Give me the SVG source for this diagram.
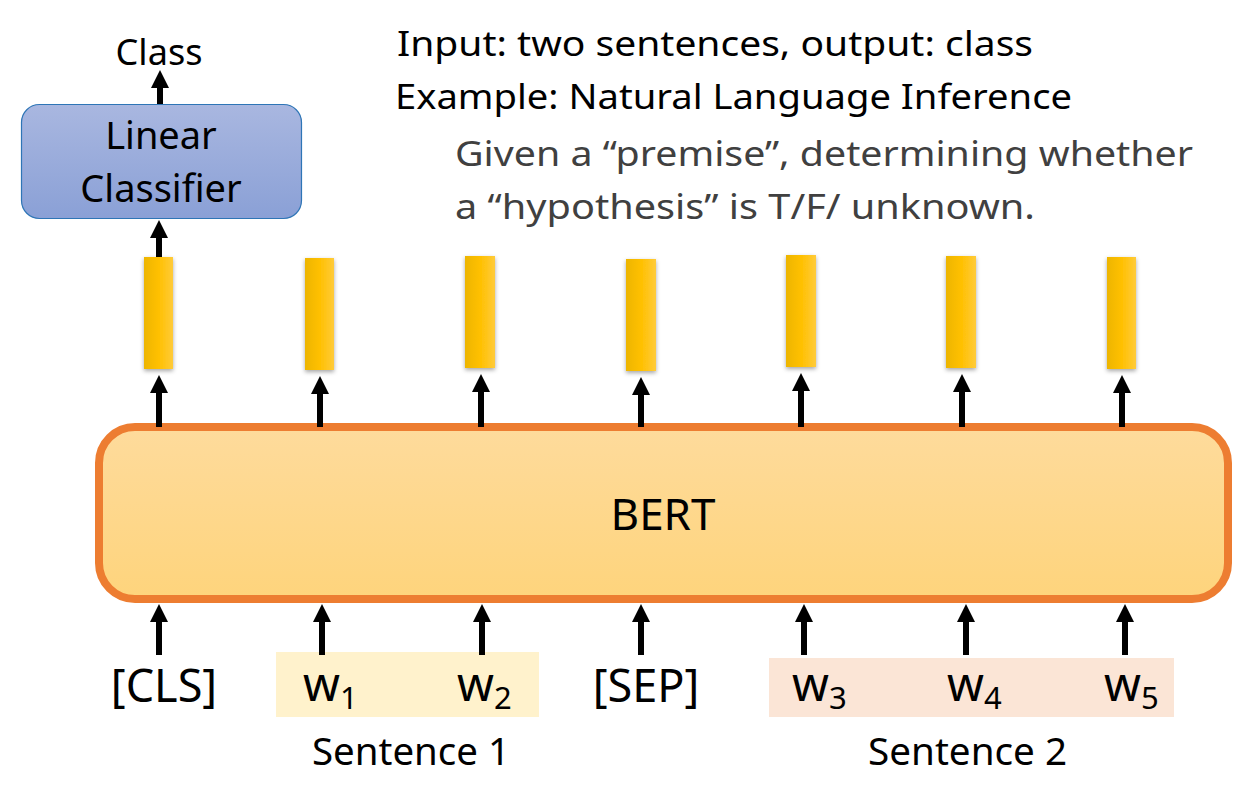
<svg xmlns="http://www.w3.org/2000/svg" width="1257" height="787" viewBox="0 0 1257 787">
<defs>
<linearGradient id="gBert" x1="0" y1="0" x2="0" y2="1"><stop offset="0" stop-color="#FEDB9C"/><stop offset="1" stop-color="#FED47C"/></linearGradient>
<linearGradient id="gLin" x1="0" y1="0" x2="0" y2="1"><stop offset="0" stop-color="#A9B7E0"/><stop offset="1" stop-color="#8AA0D6"/></linearGradient>
<linearGradient id="gBar" x1="0" y1="0" x2="1" y2="0"><stop offset="0" stop-color="#EDB500"/><stop offset="0.5" stop-color="#FFC000"/><stop offset="1" stop-color="#FFCB3A"/></linearGradient>
<filter id="sh" x="-50%" y="-20%" width="200%" height="140%"><feDropShadow dx="0" dy="2" stdDeviation="2" flood-color="#000" flood-opacity="0.35"/></filter>
<marker id="ah" viewBox="0 0 18 18" markerWidth="18" markerHeight="18" refX="1" refY="9" markerUnits="userSpaceOnUse" orient="auto"><path d="M0,0 L18,9 L0,18 Z" fill="#000"/></marker>
</defs>
<style>
text{font-family:"Noto Sans","Open Sans","DejaVu Sans",sans-serif;fill:#000}
.bar{fill:url(#gBar);filter:url(#sh)}
.conn line{stroke:#000;stroke-width:6}
.gray{fill:#404040}
</style>
<rect width="1257" height="787" fill="#fff"/>

<g id="sent1-bg"><rect x="276" y="652" width="263" height="65" fill="#FFF2CC"/></g>
<g id="sent2-bg"><rect x="769" y="658" width="405" height="59" fill="#FBE5D6"/></g>

<g id="bert"><rect x="99" y="427" width="1129" height="172" rx="36" fill="url(#gBert)" stroke="#ED7D31" stroke-width="8"/><text x="663" y="530" font-size="44" text-anchor="middle">BERT</text></g>

<g id="linear"><rect x="21.5" y="104.5" width="280" height="114" rx="18" fill="url(#gLin)" stroke="#2E75B6" stroke-width="1.2"/><text x="161" y="149" font-size="38" text-anchor="middle">Linear</text><text x="161" y="202" font-size="38" text-anchor="middle">Classifier</text></g>

<g id="class-label"><text x="159" y="65" font-size="36" text-anchor="middle" textLength="87" lengthAdjust="spacingAndGlyphs">Class</text></g>

<g id="bars">
<rect class="bar" x="144" y="257" width="29" height="112"/>
<rect class="bar" x="305" y="258" width="29" height="112"/>
<rect class="bar" x="465" y="256" width="30" height="112"/>
<rect class="bar" x="626" y="259" width="30" height="112"/>
<rect class="bar" x="786" y="255" width="30" height="112"/>
<rect class="bar" x="946" y="256" width="30" height="112"/>
<rect class="bar" x="1107" y="257" width="29" height="112"/>
</g>

<g id="tokens">
<text x="164" y="702" font-size="45" text-anchor="middle">[CLS]</text>
<text x="303" y="701" font-size="47">w<tspan font-size="31" dy="8">1</tspan></text>
<text x="457" y="701" font-size="47">w<tspan font-size="31" dy="8">2</tspan></text>
<text x="646" y="702" font-size="45" text-anchor="middle">[SEP]</text>
<text x="792" y="701" font-size="47">w<tspan font-size="31" dy="8">3</tspan></text>
<text x="947" y="701" font-size="47">w<tspan font-size="31" dy="8">4</tspan></text>
<text x="1104" y="701" font-size="47">w<tspan font-size="31" dy="8">5</tspan></text>
<text x="312" y="765" font-size="38" textLength="198" lengthAdjust="spacingAndGlyphs">Sentence 1</text>
<text x="868" y="765" font-size="38" textLength="199" lengthAdjust="spacingAndGlyphs">Sentence 2</text>
</g>

<g id="desc">
<text x="397" y="56" font-size="35" textLength="636" lengthAdjust="spacingAndGlyphs">Input: two sentences, output: class</text>
<text x="395" y="109" font-size="35" textLength="677" lengthAdjust="spacingAndGlyphs">Example: Natural Language Inference</text>
<text class="gray" x="455" y="166" font-size="35" textLength="738" lengthAdjust="spacingAndGlyphs">Given a “premise”, determining whether</text>
<text class="gray" x="455" y="219" font-size="35" textLength="580" lengthAdjust="spacingAndGlyphs">a “hypothesis” is T/F/ unknown.</text>
</g>

<g id="connectors" class="conn">
<line x1="160" y1="104" x2="160" y2="87" marker-end="url(#ah)"/>
<line x1="159" y1="257" x2="159" y2="237" marker-end="url(#ah)"/>
<line x1="159" y1="427" x2="159" y2="392" marker-end="url(#ah)"/>
<line x1="320" y1="427" x2="320" y2="393" marker-end="url(#ah)"/>
<line x1="481" y1="427" x2="481" y2="391" marker-end="url(#ah)"/>
<line x1="641" y1="427" x2="641" y2="394" marker-end="url(#ah)"/>
<line x1="801" y1="427" x2="801" y2="390" marker-end="url(#ah)"/>
<line x1="962" y1="427" x2="962" y2="391" marker-end="url(#ah)"/>
<line x1="1122" y1="427" x2="1122" y2="392" marker-end="url(#ah)"/>
<line x1="159" y1="655" x2="159" y2="621" marker-end="url(#ah)"/>
<line x1="322" y1="655" x2="322" y2="621" marker-end="url(#ah)"/>
<line x1="482" y1="655" x2="482" y2="621" marker-end="url(#ah)"/>
<line x1="641" y1="655" x2="641" y2="621" marker-end="url(#ah)"/>
<line x1="804" y1="655" x2="804" y2="621" marker-end="url(#ah)"/>
<line x1="966" y1="655" x2="966" y2="621" marker-end="url(#ah)"/>
<line x1="1125" y1="655" x2="1125" y2="621" marker-end="url(#ah)"/>
</g>
</svg>
